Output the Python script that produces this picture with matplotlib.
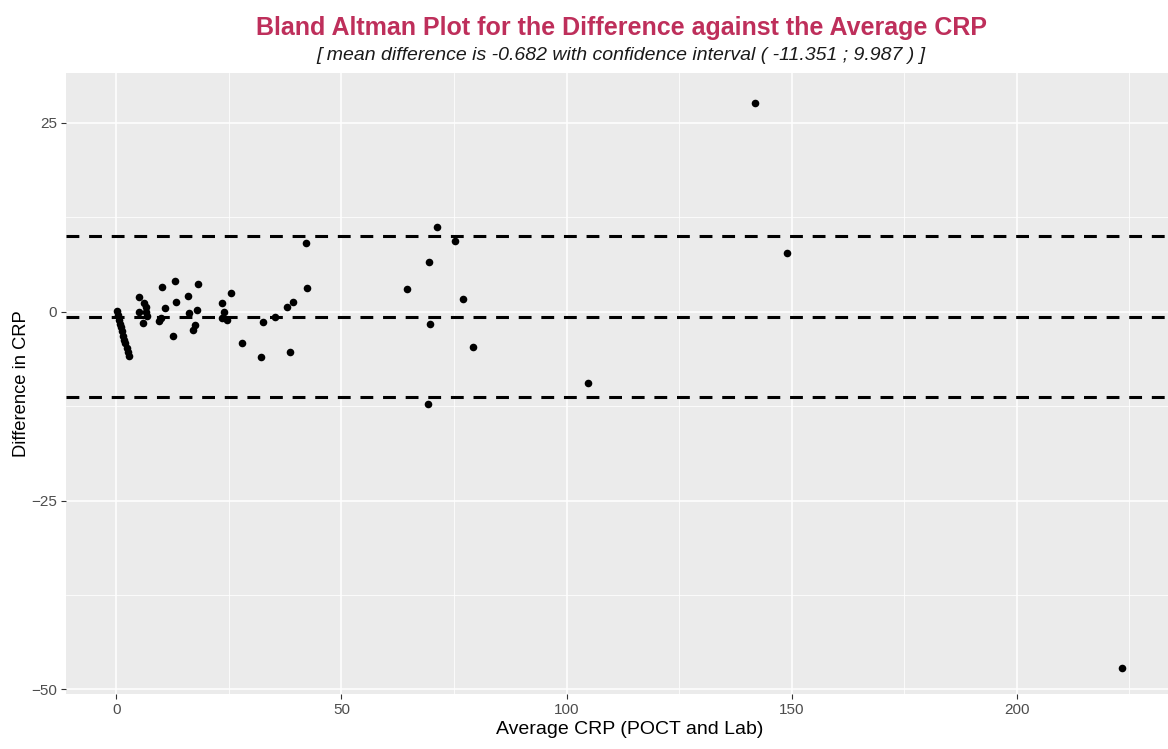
import matplotlib
matplotlib.use("Agg")
import matplotlib.pyplot as plt
from matplotlib.ticker import MultipleLocator

plt.rcParams['font.family'] = ['Liberation Sans', 'DejaVu Sans']

# average of POCT and Lab CRP
avg_crp = [0.05, 0.3, 0.55, 0.8, 1.0, 1.25, 1.5, 1.75, 2.0, 2.25, 2.5, 2.8,
           5.0, 5.0, 6.0, 6.2, 6.5, 6.6, 6.8, 9.5, 9.9, 10.1, 10.7, 12.6,
           13.0, 13.2, 16.0, 16.2, 17.1, 17.4, 17.8, 18.2, 23.4, 23.9, 23.4,
           24.5, 25.5, 27.9, 32.1, 32.6, 35.3, 37.8, 38.6, 39.3, 42.1, 42.4,
           64.6, 69.2, 69.5, 69.7, 71.3, 75.3, 77.1, 79.3, 104.8, 141.9,
           149.0, 223.4]
# POCT minus Lab
diff_crp = [0.1, -0.5, -1.1, -1.6, -2.1, -2.6, -3.2, -3.7, -4.2, -4.8, -5.3, -5.9,
            1.9, -0.1, -1.5, 1.1, 0.6, 0.0, -0.55, -1.3, -0.9, 3.3, 0.45, -3.3,
            4.1, 1.2, 2.1, -0.2, -2.5, -1.75, 0.25, 3.7, 1.1, 0.0, -0.9,
            -1.1, 2.45, -4.2, -6.0, -1.4, -0.7, 0.6, -5.4, 1.3, 9.1, 3.1,
            3.0, -12.2, 6.6, -1.6, 11.2, 9.3, 1.7, -4.7, -9.5, 27.6,
            7.7, -47.1]

mean_diff = -0.682
lower_loa = -11.351
upper_loa = 9.987

fig = plt.figure(figsize=(11.68, 7.49), dpi=100)
ax = fig.add_axes([66 / 1168, 55 / 749, 1128 / 1168, 621.3 / 749])

ax.set_facecolor('#EBEBEB')
for s in ax.spines.values():
    s.set_visible(False)

ax.set_xlim(-11.2, 239.4)
ax.set_ylim(-50.6, 31.6)
ax.xaxis.set_major_locator(MultipleLocator(50))
ax.xaxis.set_minor_locator(MultipleLocator(25))
ax.yaxis.set_major_locator(MultipleLocator(25))
ax.yaxis.set_minor_locator(MultipleLocator(12.5))
ax.grid(which='major', color='white', lw=1.1)
ax.grid(which='minor', color='white', lw=0.55)
ax.set_axisbelow(True)
ax.tick_params(which='minor', length=0)
ax.tick_params(which='major', length=3.5, width=0.8, color='#333333',
               labelcolor='#4D4D4D', labelsize=11, pad=3)

# mean difference and limits of agreement
for yv in (upper_loa, mean_diff, lower_loa):
    ax.axhline(yv, color='black', lw=2.2, linestyle=(0, (4.2, 3.2)), zorder=2)

ax.scatter(avg_crp, diff_crp, s=30, color='black', zorder=3, linewidths=0)

ax.set_xlabel('Average CRP (POCT and Lab)', fontsize=14, labelpad=3)
ax.set_ylabel('Difference in CRP', fontsize=13.2, labelpad=1)

fig.text(621 / 1168, 1 - 28 / 749, 'Bland Altman Plot for the Difference against the Average CRP',
         ha='center', va='center', fontsize=18, fontweight='bold', color='#BE2F5B')
fig.text(621 / 1168, 1 - 56 / 749,
         '[ mean difference is -0.682 with confidence interval ( -11.351 ; 9.987 ) ]',
         ha='center', va='center', fontsize=14, style='italic', color='#1A1A1A')

fig.savefig('out.png', dpi=100)
